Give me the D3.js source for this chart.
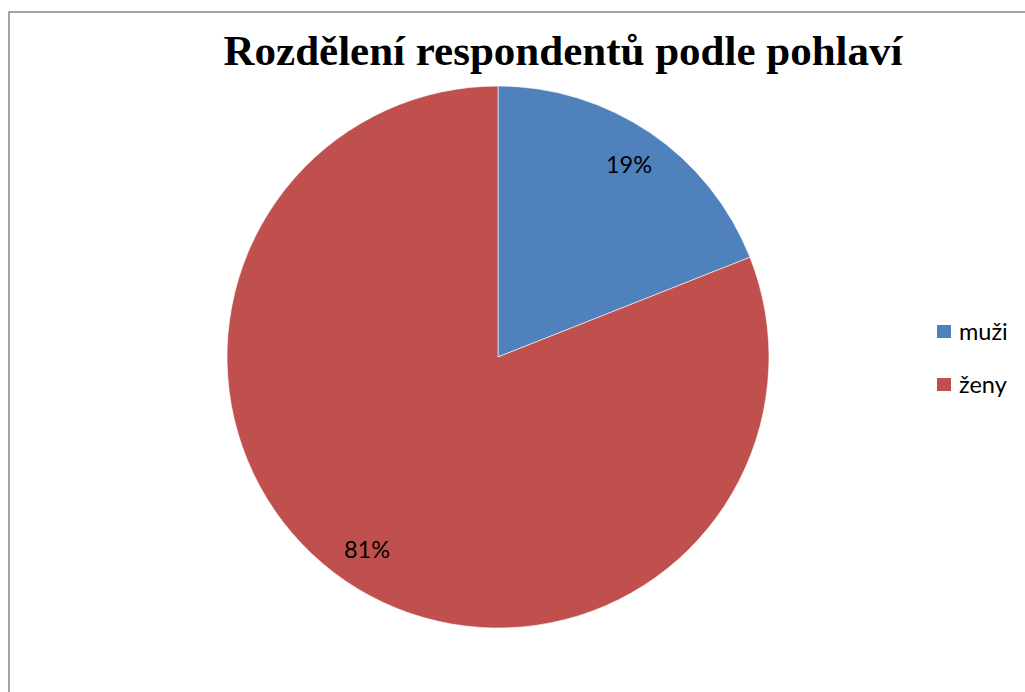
<!DOCTYPE html>
<html lang="cs">
<head>
    <meta charset="UTF-8">
    <title>Rozdělení respondentů podle pohlaví</title>
    <script src="https://cdn.jsdelivr.net/npm/d3@7"></script>
    <style>
        body { margin: 0; background: #fff; }
        svg { display: block; }
    </style>
</head>
<body>
    <script>
        const categories = ["muži", "ženy"];
        const values = [19, 81];
        const colors = ["#4f81bd", "#c0504d"];
        const title = "Rozdělení respondentů podle pohlaví";

        const width = 1025;
        const height = 692;
        const cx = 498;
        const cy = 357;
        const radius = 271;
        const labelRadius = 233;

        const svg = d3.select("body").append("svg")
            .attr("width", width)
            .attr("height", height);

        // chart frame (only left and top edges visible)
        svg.append("path")
            .attr("d", `M9,${height} V12 H${width}`)
            .attr("fill", "none")
            .attr("stroke", "#878787")
            .attr("stroke-width", 1.5);

        svg.append("text")
            .attr("x", 563)
            .attr("y", 65)
            .attr("text-anchor", "middle")
            .attr("font-family", "'Liberation Serif', 'Times New Roman', serif")
            .attr("font-weight", "bold")
            .attr("font-size", 43)
            .attr("fill", "#000")
            .text(title);

        const data = categories.map((c, i) => ({ name: c, value: values[i], color: colors[i] }));

        const pie = d3.pie().value(d => d.value).sort(null);
        const arc = d3.arc().innerRadius(0).outerRadius(radius);
        const labelArc = d3.arc().innerRadius(labelRadius).outerRadius(labelRadius);

        const g = svg.append("g").attr("transform", `translate(${cx},${cy})`);
        const arcs = pie(data);

        g.selectAll("path")
            .data(arcs)
            .join("path")
            .attr("d", arc)
            .attr("fill", d => d.data.color)
            .attr("stroke", "#fff")
            .attr("stroke-width", 0.6);

        g.selectAll("text")
            .data(arcs)
            .join("text")
            .attr("transform", d => `translate(${labelArc.centroid(d)})`)
            .attr("text-anchor", "middle")
            .attr("dy", "0.35em")
            .attr("font-family", "Lato, 'Open Sans', sans-serif")
            .attr("font-size", 23.5)
            .attr("fill", "#000")
            .text(d => d.data.value + "%");

        const legend = svg.append("g")
            .selectAll("g")
            .data(data)
            .join("g")
            .attr("transform", (d, i) => `translate(937,${325 + i * 53})`);

        legend.append("rect")
            .attr("width", 14)
            .attr("height", 13)
            .attr("fill", d => d.color);

        legend.append("text")
            .attr("x", 22)
            .attr("y", 7)
            .attr("dy", "0.35em")
            .attr("font-family", "Lato, 'Open Sans', sans-serif")
            .attr("font-size", 23.5)
            .attr("fill", "#000")
            .text(d => d.name);
    </script>
</body>
</html>
